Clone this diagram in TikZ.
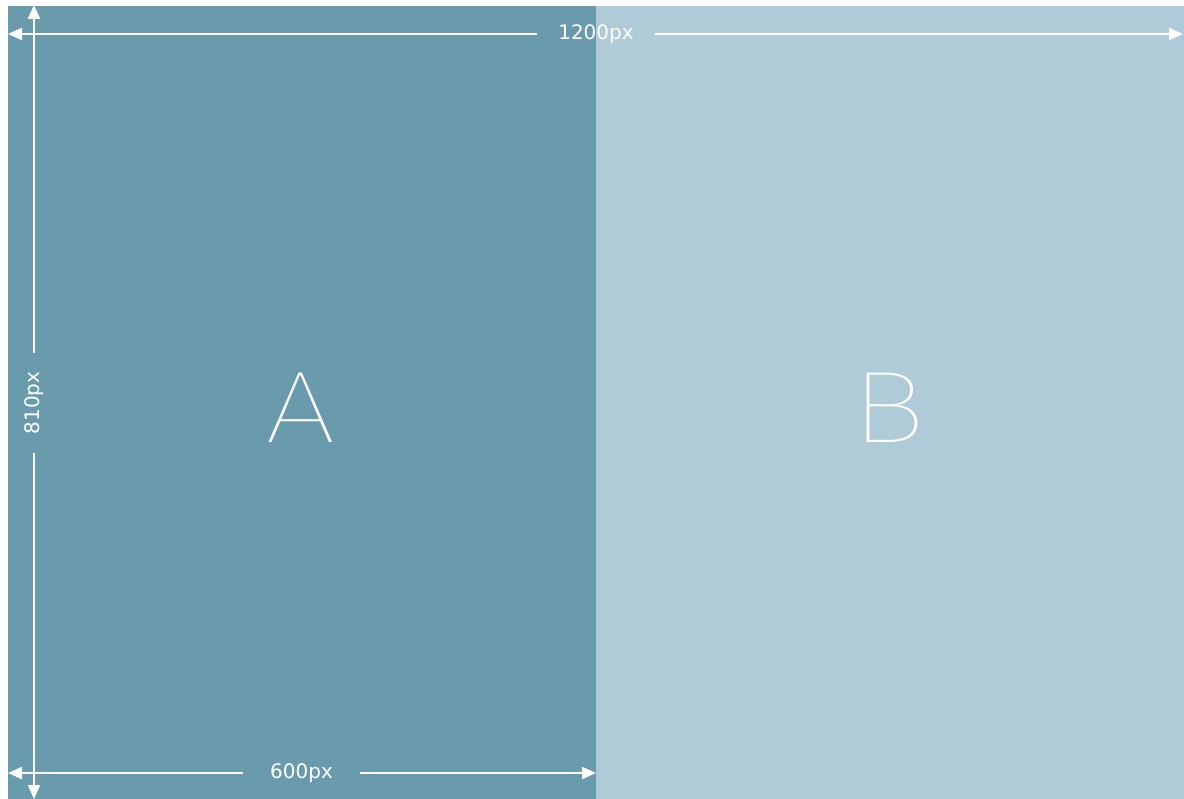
\documentclass[tikz,border=0pt]{standalone}
\usepackage{fontspec}
\setmainfont{DejaVu Sans}
\IfFontExistsTF{Fira Sans Thin}{\newfontfamily\thinfont{Fira Sans Thin}}{%
 \IfFontExistsTF{Fira Sans ExtraLight}{\newfontfamily\thinfont{Fira Sans ExtraLight}}{%
  \IfFontExistsTF{Lato Hairline}{\newfontfamily\thinfont{Lato Hairline}}{%
   \IfFontExistsTF{Fira Sans Light}{\newfontfamily\thinfont{Fira Sans Light}}{%
    \IfFontExistsTF{DejaVu Sans ExtraLight}{\newfontfamily\thinfont{DejaVu Sans ExtraLight}}{%
     \newfontfamily\thinfont{DejaVu Sans}}}}}}
\usetikzlibrary{arrows.meta}
\definecolor{panelA}{RGB}{106,155,172}
\definecolor{panelB}{RGB}{175,203,216}
\tikzset{
  dim/.style={draw=white, line width=2pt, -{Triangle[length=14pt,width=12pt]}},
  dimlabel/.style={text=white, font=\fontsize{20pt}{24pt}\selectfont, inner sep=0pt, anchor=center},
  bigletter/.style={text=white, font=\thinfont\fontsize{102pt}{110pt}\selectfont, inner sep=0pt, xscale=1.24},
}
\begin{document}
\begin{tikzpicture}[x=1pt,y=-1pt]
\useasboundingbox (0,0) rectangle (1184,799);
\fill[white] (0,0) rectangle (1184,799);
\fill[panelA] (8,6) rectangle (596,799);
\fill[panelB] (596,6) rectangle (1184,799);
% letters
\node[bigletter] (A) at (301,408) {A};
\node[bigletter] (B) at (888.5,408) {B};
% end points
\coordinate (topL) at (8,34);
\coordinate (topR) at (1183,34);
\coordinate (botL) at (8,773);
\coordinate (botR) at (596,773);
\coordinate (vT) at (34,5);
\coordinate (vB) at (34,799);
% labels
\node[dimlabel, minimum width=118pt] (w) at (596,34) {1200px};
\node[dimlabel, minimum width=117pt] (h) at (301.5,773) {600px};
\node[dimlabel, minimum width=100pt, rotate=90] (v) at (34,403) {810px};
% arrows
\draw[dim] (w.west) -- (topL);
\draw[dim] (w.east) -- (topR);
\draw[dim] (h.west) -- (botL);
\draw[dim] (h.east) -- (botR);
\draw[dim] (v.east) -- (vT);
\draw[dim] (v.west) -- (vB);
\end{tikzpicture}
\end{document}
